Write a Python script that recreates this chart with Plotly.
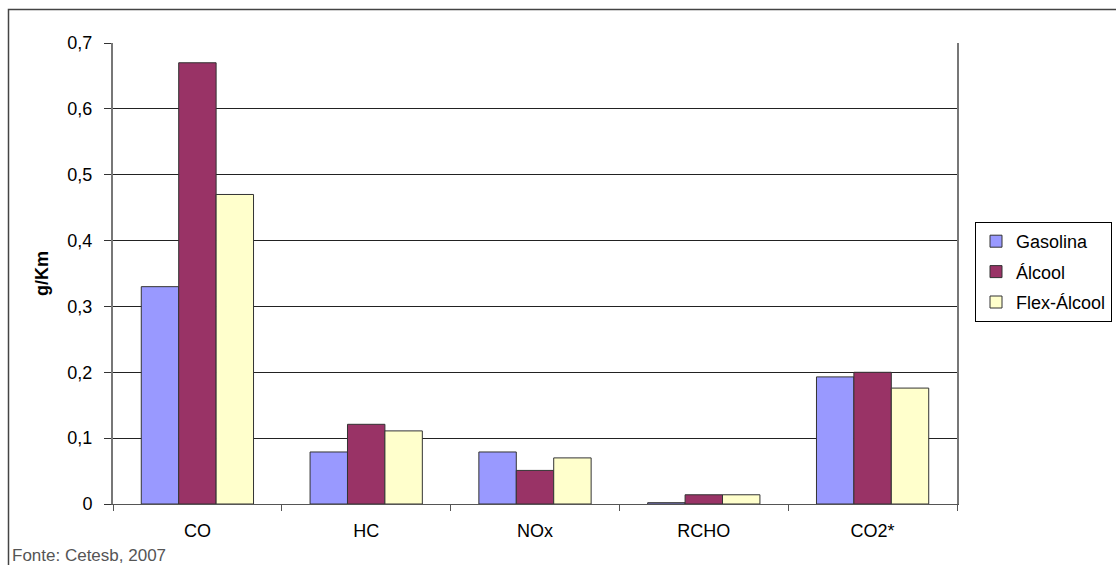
import plotly.graph_objects as go

categories = ["CO", "HC", "NOx", "RCHO", "CO2*"]
gasolina = [0.33, 0.079, 0.079, 0.002, 0.193]
alcool = [0.67, 0.121, 0.051, 0.014, 0.200]
flex_alcool = [0.47, 0.111, 0.070, 0.014, 0.176]
series_names = ["Gasolina", "Álcool", "Flex-Álcool"]
colors = ["#9999FF", "#993366", "#FFFFCC"]
y_tickvals = [0, 0.1, 0.2, 0.3, 0.4, 0.5, 0.6, 0.7]
y_ticktext = ["0", "0,1", "0,2", "0,3", "0,4", "0,5", "0,6", "0,7"]

FONT = "Arial, Liberation Sans, sans-serif"

fig = go.Figure()
for i, (name, vals) in enumerate(zip(series_names, [gasolina, alcool, flex_alcool])):
    fig.add_trace(go.Bar(
        x=categories, y=vals, name=name, legendgroup=name,
        marker=dict(color=colors[i], line=dict(color="#333333", width=1)),
    ))

W, H = 1116, 565
L, R, T, B = 113, 957, 43, 504
pw, ph = R - L, B - T

def px(x):
    return (x - L) / pw

def py(y):
    return (B - y) / ph

fig.update_layout(
    width=W, height=H,
    margin=dict(l=L, r=W - R, t=T, b=H - B, pad=0, autoexpand=False),
    paper_bgcolor="white", plot_bgcolor="white",
    font=dict(family=FONT, size=18, color="black"),
    barmode="group", bargap=0.335, bargroupgap=0,
    showlegend=True,
    legend=dict(
        x=px(975), y=py(222), xanchor="left", yanchor="top",
        bordercolor="#000000", borderwidth=1, bgcolor="white",
        font=dict(family=FONT, size=18, color="black"),
        tracegroupgap=4, entrywidth=190,
    ),
    xaxis=dict(
        showline=True, linecolor="#555555", linewidth=1,
        ticks="outside", tickson="boundaries", ticklen=6, tickcolor="#555555",
        showgrid=False, tickfont=dict(size=18), fixedrange=True,
        ticklabelstandoff=10,
    ),
    yaxis=dict(
        range=[0, 0.7], tickvals=y_tickvals, ticktext=y_ticktext,
        showline=True, mirror=True, linecolor="#777777", linewidth=2,
        ticks="outside", ticklen=7, tickcolor="#333333",
        showgrid=True, gridcolor="#222222", gridwidth=1,
        zeroline=False, tickfont=dict(size=18), ticklabelstandoff=8,
        title=dict(text="<b>g/Km</b>", font=dict(size=18), standoff=14),
    ),
    annotations=[
        dict(text="Fonte: Cetesb, 2007", x=px(10), y=py(555), xref="paper", yref="paper",
             xanchor="left", yanchor="middle", showarrow=False,
             font=dict(family=FONT, size=17, color="#555555")),
    ],
    shapes=[
        dict(type="rect", xref="paper", yref="paper",
             x0=px(8.5), x1=px(1130), y0=py(580), y1=py(9.5),
             line=dict(color="#444444", width=1.5), layer="below"),
    ],
)

fig.write_html("out.html")
